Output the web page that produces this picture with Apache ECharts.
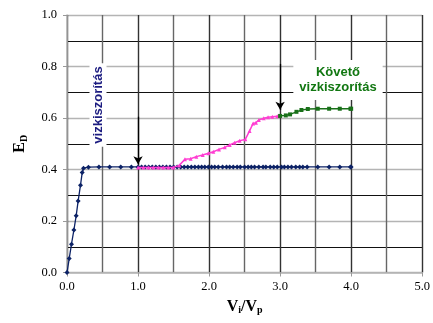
<!DOCTYPE html>
<html><head><meta charset="utf-8">
<script src="https://cdn.jsdelivr.net/npm/echarts@6/dist/echarts.min.js"></script>
<style>html,body{margin:0;padding:0;background:#fff}#c{width:433px;height:323px}</style>
</head><body><div id="c"></div>
<script>
var xTicks = ['0.0','1.0','2.0','3.0','4.0','5.0'];
var yTicks = ['0.0','0.2','0.4','0.6','0.8','1.0'];
var blueX = [0,0.031,0.063,0.097,0.129,0.157,0.19,0.214,0.232,0.302,0.45,0.60,0.757,0.906,1.0,1.05,1.1,1.15,1.2,1.25,1.3,1.35,1.4,1.45,1.5,1.55,1.6,1.65,1.7,1.75,1.8,1.85,1.895,1.94,1.99,2.035,2.08,2.13,2.19,2.245,2.29,2.34,2.395,2.44,2.5,2.55,2.595,2.64,2.7,2.76,2.8,2.86,2.91,2.96,3.02,3.06,3.11,3.16,3.22,3.275,3.32,3.38,3.53,3.69,3.84,3.99,4.0];
var blueY = [0,0.054,0.11,0.165,0.22,0.278,0.339,0.388,0.405,0.409,0.41,0.41,0.41,0.41,0.41,0.41,0.41,0.41,0.41,0.41,0.41,0.41,0.41,0.41,0.41,0.41,0.41,0.41,0.41,0.41,0.41,0.41,0.41,0.41,0.41,0.41,0.41,0.41,0.41,0.41,0.41,0.41,0.41,0.41,0.41,0.41,0.41,0.41,0.41,0.41,0.41,0.41,0.41,0.41,0.41,0.41,0.41,0.41,0.41,0.41,0.41,0.41,0.41,0.41,0.41,0.41,0.41];
var pinkX = [1.0,1.075,1.145,1.215,1.285,1.355,1.425,1.495,1.58,1.66,1.74,1.82,1.91,1.99,2.06,2.14,2.22,2.29,2.36,2.43,2.51,2.57,2.62,2.66,2.70,2.77,2.83,2.89,2.96,3.0];
var pinkY = [0.408,0.408,0.408,0.408,0.408,0.408,0.408,0.408,0.416,0.44,0.442,0.45,0.456,0.463,0.469,0.478,0.486,0.495,0.504,0.512,0.517,0.55,0.579,0.582,0.592,0.599,0.603,0.605,0.607,0.608];
var greenX = [3.0,3.08,3.14,3.23,3.30,3.39,3.53,3.69,3.84,3.99,4.0];
var greenY = [0.608,0.610,0.614,0.624,0.631,0.635,0.636,0.636,0.636,0.636,0.636];
var arrow1 = [[1.0,0.605],[1.0,0.42]];
var arrow2 = [[3.0,0.81],[3.0,0.632]];
var label1 = 'vizkiszorítás';
var label2 = 'Követő\nvizkiszorítás';

function zip(a,b){return a.map(function(v,i){return [v,b[i]];});}
var chart = echarts.init(document.getElementById('c'), null, {renderer:'canvas'});
var serif = 'Liberation Serif';
var sans = 'Liberation Sans';
chart.setOption({
  animation:false,
  backgroundColor:'#fff',
  textStyle:{fontFamily:serif},
  grid:{left:67,right:10,top:15,bottom:50.5,containLabel:false},
  xAxis:{type:'value',min:0,max:5,interval:1,
    name:'{b|V}{s|i}{b|/V}{s|p}',nameLocation:'middle',nameGap:24,
    nameTextStyle:{rich:{b:{fontFamily:serif,fontWeight:'bold',fontSize:16,color:'#000'},s:{fontFamily:serif,fontWeight:'bold',fontSize:10,color:'#000',padding:[8,0,0,0]}}},
    axisLine:{show:true,lineStyle:{color:'#b4b4b4',width:1.5}},
    axisTick:{show:true,length:4,lineStyle:{color:'#999'}},
    axisLabel:{fontFamily:serif,fontSize:12.5,color:'#000',margin:8,formatter:function(v){return '{t|'+xTicks[Math.round(v)]+'}';},
      rich:{t:{fontFamily:serif,fontSize:12.5,color:'#000'}}},
    splitLine:{show:true,lineStyle:{color:'#333',width:1.4}},
    minorTick:{show:false,splitNumber:2},
    minorSplitLine:{show:true,lineStyle:{color:'#666',width:1.4}}
  },
  yAxis:{type:'value',min:0,max:1,interval:0.2,
    name:'{b|E}{s|D}',nameLocation:'middle',nameGap:38,nameRotate:90,
    nameTextStyle:{rich:{b:{fontFamily:serif,fontWeight:'bold',fontSize:16,color:'#000'},s:{fontFamily:serif,fontWeight:'bold',fontSize:10,color:'#000',padding:[8,0,0,0]}}},
    axisLine:{show:true,lineStyle:{color:'#b4b4b4',width:1.5}},
    axisTick:{show:true,length:4,lineStyle:{color:'#999'}},
    axisLabel:{fontFamily:serif,fontSize:12.5,color:'#000',margin:10,formatter:function(v){return '{t|'+yTicks[Math.round(v*5)]+'}';},
      rich:{t:{fontFamily:serif,fontSize:12.5,color:'#000'}}},
    splitLine:{show:true,lineStyle:{color:'#b4b4b4',width:1.3}},
    minorTick:{show:false,splitNumber:2},
    minorSplitLine:{show:true,lineStyle:{color:'#111',width:1.2}}
  },
  series:[
    {type:'line',data:zip(blueX,blueY),symbol:'diamond',symbolSize:5,showSymbol:true,
      lineStyle:{color:'#0c2266',width:1.3},itemStyle:{color:'#0c2266'},z:3},
    {type:'line',data:zip(pinkX,pinkY),symbol:'triangle',symbolSize:4,
      lineStyle:{color:'#ff3dd2',width:1.5},itemStyle:{color:'#ff3dd2'},z:4,
      markLine:{silent:true,symbol:['none','arrow'],symbolSize:[7,8],label:{show:false},
        lineStyle:{color:'#000',width:1.3,type:'solid'},
        data:[[{coord:arrow1[0]},{coord:arrow1[1]}],[{coord:arrow2[0]},{coord:arrow2[1]}]]}},
    {type:'line',data:zip(greenX,greenY),symbol:'rect',symbolSize:4,
      lineStyle:{color:'#197019',width:1.3},itemStyle:{color:'#197019'},z:5}
  ],
  graphic:[
    {type:'text',x:98,y:105,rotation:Math.PI/2,z:100,
      style:{text:label1,font:'bold 13px '+sans,fill:'#1c1c80',align:'center',verticalAlign:'middle',backgroundColor:'#fff',padding:[2,3]}},
    {type:'text',x:338,y:80,z:100,
      style:{text:label2,font:'bold 13px '+sans,fill:'#117711',align:'center',verticalAlign:'middle',lineHeight:15,backgroundColor:'#fff',padding:[5,6]}}
  ]
});
</script></body></html>
